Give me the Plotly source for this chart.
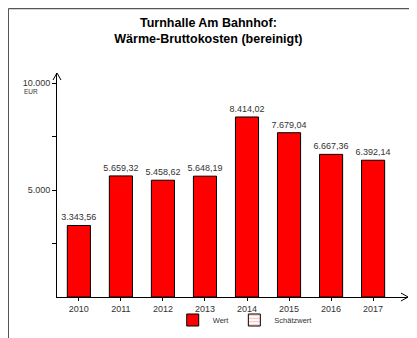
import plotly.graph_objects as go

# Wärme-Bruttokosten je Jahr (EUR)
jahre = ["2010", "2011", "2012", "2013", "2014", "2015", "2016", "2017"]
werte = [3343.56, 5659.32, 5458.62, 5648.19, 8414.02, 7679.04, 6667.36, 6392.14]
y_tickwerte = [2500, 5000, 7500, 10000]
y_ticktexte = ["", "5.000", "", "10.000"]


def de_format(v):
    # 1234.5 -> "1.234,50"
    s = f"{v:,.2f}"
    return s.replace(",", "X").replace(".", ",").replace("X", ".")


beschriftung = [de_format(v) for v in werte]
schrift = "Liberation Sans, Arial, sans-serif"

# die Seite hat 8px Rand, deshalb ist die Figur etwas kleiner als das Fenster
fig = go.Figure()
fig.add_trace(go.Bar(
    x=jahre, y=werte, name="Wert", width=0.55,
    marker=dict(color="#ff0000", line=dict(color="black", width=1)),
    text=beschriftung, textposition="outside", cliponaxis=False, constraintext="none",
    textfont=dict(size=9, color="#333333", family=schrift),
))
# nur Legendeneintrag
fig.add_trace(go.Bar(
    x=[None], y=[None], name="Schätzwert",
    marker=dict(color="white", line=dict(color="black", width=1),
                pattern=dict(shape="-", fgcolor="#ff0000", size=4)),
))

# Rahmen oben und links
fig.add_shape(type="line", xref="paper", yref="paper", xsizemode="pixel", ysizemode="pixel",
              xanchor=0, yanchor=1, x0=-48.5, x1=360, y0=64.5, y1=64.5,
              line=dict(color="#555555", width=1.5))
fig.add_shape(type="line", xref="paper", yref="paper", xsizemode="pixel", ysizemode="pixel",
              xanchor=0, yanchor=1, x0=-48.5, x1=-48.5, y0=64.5, y1=-270,
              line=dict(color="#555555", width=1))
# Pfeilspitzen an den Achsen
fig.add_shape(type="path", xref="paper", yref="paper", xsizemode="pixel", ysizemode="pixel",
              xanchor=1, yanchor=0, path="M-7,4 L0,0 L-7,-4", line=dict(color="black", width=1))
fig.add_shape(type="path", xref="paper", yref="paper", xsizemode="pixel", ysizemode="pixel",
              xanchor=0, yanchor=1, path="M-4,-7 L0,0 L4,-7", line=dict(color="black", width=1))

fig.add_annotation(x=0, y=10000, xref="paper", yref="y", text="EUR", showarrow=False,
                   xanchor="right", yanchor="top", xshift=-17, yshift=-3,
                   font=dict(size=6.5, color="#333333", family=schrift))

fig.update_layout(
    width=409, height=330,
    margin=dict(l=49, r=9, t=65, b=41, autoexpand=False),
    paper_bgcolor="white", plot_bgcolor="white",
    title=dict(text="Turnhalle Am Bahnhof:<br>Wärme-Bruttokosten (bereinigt)",
               x=0.49, xanchor="center", xref="container", y=0.942, yanchor="top", yref="container",
               font=dict(size=12.5, color="black", family=schrift, weight="bold")),
    font=dict(family=schrift, size=9, color="#333333"),
    showlegend=True,
    legend=dict(orientation="h", xref="container", yref="container", x=0.58, xanchor="center",
                y=0.0545, yanchor="middle",
                font=dict(size=7.5, color="#333333"), itemwidth=30, bgcolor="rgba(0,0,0,0)"),
    bargap=0.45,
    # zweite Achse nur für die nach innen zeigenden Tickstriche
    yaxis2=dict(overlaying="y", side="left", anchor="x", range=[0, 10470],
                tickvals=y_tickwerte, ticks="inside", ticklen=4, tickcolor="black",
                showticklabels=False, showgrid=False, zeroline=False, showline=False,
                automargin=False),
)
fig.update_xaxes(range=[-0.52, 7.83], showline=True, linecolor="black", linewidth=1,
                 ticks="outside", ticklen=3, tickcolor="black", showgrid=False, automargin=False,
                 tickfont=dict(size=9, color="#333333"))
fig.update_yaxes(range=[0, 10470], showline=True, linecolor="black", linewidth=1,
                 tickvals=y_tickwerte, ticktext=y_ticktexte, ticks="outside", ticklen=4,
                 tickcolor="black", showgrid=False, zeroline=False, automargin=False,
                 tickfont=dict(size=9, color="#333333"), selector=dict(overlaying=None))

fig.write_html("out.html")
